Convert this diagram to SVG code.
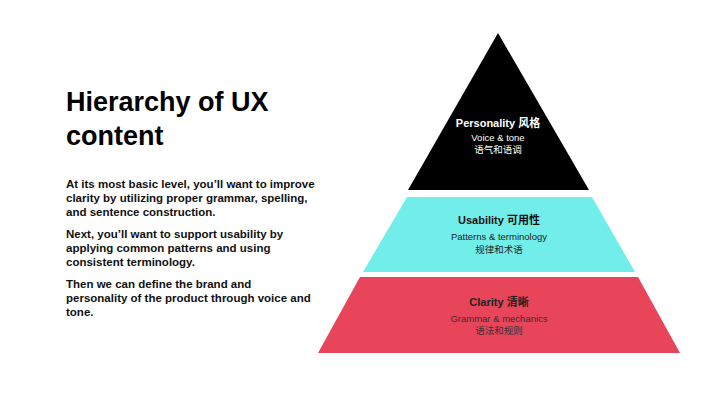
<svg xmlns="http://www.w3.org/2000/svg" width="720" height="405" viewBox="0 0 720 405">
<style>
text{font-family:"Liberation Sans","Noto Sans CJK SC",sans-serif}
.t{font-size:27px;font-weight:bold;fill:#000}
.b{font-size:11.5px;font-weight:bold;fill:#111}
.h{font-size:11px;font-weight:bold;text-anchor:middle}
.s{font-size:9.5px;text-anchor:middle}
</style>
<rect width="720" height="405" fill="#fff"/>
<g id="text">
<text class="t" x="66" y="111">Hierarchy of UX</text>
<text class="t" x="66" y="145">content</text>
<text class="b" x="66" y="188">At its most basic level, you’ll want to improve</text>
<text class="b" x="66" y="202">clarity by utilizing proper grammar, spelling,</text>
<text class="b" x="66" y="216">and sentence construction.</text>
<text class="b" x="66" y="238">Next, you’ll want to support usability by</text>
<text class="b" x="66" y="252">applying common patterns and using</text>
<text class="b" x="66" y="266">consistent terminology.</text>
<text class="b" x="66" y="288">Then we can define the brand and</text>
<text class="b" x="66" y="302">personality of the product through voice and</text>
<text class="b" x="66" y="316">tone.</text>
</g>
<g id="personality">
<polygon points="498,33 589,190 408,190" fill="#000"/>
<text class="h" x="498" y="127" fill="#fff">Personality  风格</text>
<text class="s" x="498" y="141" fill="#fff">Voice &amp; tone</text>
<text class="s" x="498" y="153" fill="#fff">语气和语调</text>
</g>
<g id="usability">
<polygon points="407,197 592,197 635,272 363,272" fill="#72EEEA"/>
<text class="h" x="499" y="224" fill="#111">Usability 可用性</text>
<text class="s" x="499" y="240" fill="#222">Patterns &amp; terminology</text>
<text class="s" x="499" y="253" fill="#222">规律和术语</text>
</g>
<g id="clarity">
<polygon points="360,277 638,277 680,353 318,353" fill="#E8445A"/>
<text class="h" x="499" y="306" fill="#222">Clarity 清晰</text>
<text class="s" x="499" y="322" fill="#333">Grammar &amp; mechanics</text>
<text class="s" x="499" y="334" fill="#333">语法和规则</text>
</g>
<g id="connectors"/>
</svg>
